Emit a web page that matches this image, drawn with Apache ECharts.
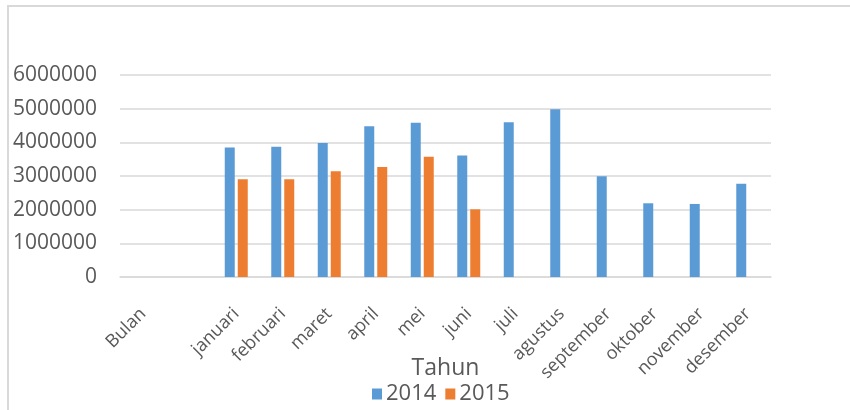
<!DOCTYPE html>
<html>
<head>
<meta charset="utf-8">
<script src="https://cdn.jsdelivr.net/npm/echarts@6/dist/echarts.min.js"></script>
<style>
html,body{margin:0;padding:0;background:#fff;}
#chart{width:850px;height:410px;}
</style>
</head>
<body>
<div id="chart"></div>
<script>
// kategori bulan (kolom pertama "Bulan" + satu kolom kosong, seperti di sheet aslinya)
var bulan = ['Bulan', '', 'januari', 'februari', 'maret', 'april', 'mei', 'juni',
	'juli', 'agustus', 'september', 'oktober', 'november', 'desember'];
var data2014 = [null, null, 3850000, 3870000, 3980000, 4480000, 4580000, 3610000,
	4600000, 4980000, 2990000, 2190000, 2170000, 2770000];
var data2015 = [null, null, 2900000, 2900000, 3140000, 3270000, 3570000, 2010000,
	null, null, null, null, null, null];
var yTicks = [0, 1000000, 2000000, 3000000, 4000000, 5000000, 6000000];

var txtColor = '#595959';
var gridColor = '#d9d9d9';

var myChart = echarts.init(document.getElementById('chart'));
var option = {
	animation: false,
	textStyle: { fontFamily: 'Open Sans' },
	graphic: [{
		type: 'rect',
		shape: { x: 8, y: 6, width: 900, height: 500 },
		style: { fill: 'none', stroke: gridColor, lineWidth: 2 },
		silent: true
	}],
	grid: { left: 120, right: 79, top: 75, bottom: 133 },
	legend: {
		data: ['2014', '2015'],
		left: 367,
		top: 378,
		itemWidth: 10,
		itemHeight: 11,
		itemGap: 9,
		icon: 'rect',
		textStyle: { color: txtColor, fontSize: 22, padding: [0, 0, 0, -1] }
	},
	xAxis: {
		type: 'category',
		data: bulan,
		name: 'Tahun',
		nameLocation: 'middle',
		nameGap: 80,
		nameMoveOverlap: false,
		nameTextStyle: { color: txtColor, fontSize: 23 },
		axisLine: { show: true, lineStyle: { color: gridColor, width: 1.5 } },
		axisTick: { show: false },
		axisLabel: {
			interval: 0,
			rotate: 45,
			margin: 34,
			color: txtColor,
			fontSize: 18
		}
	},
	yAxis: {
		type: 'value',
		min: yTicks[0],
		max: yTicks[yTicks.length - 1],
		interval: 1000000,
		axisLine: { show: false },
		axisTick: { show: false },
		axisLabel: {
			color: txtColor,
			fontSize: 21,
			margin: 23,
			formatter: function (v) { return String(v); }
		},
		splitLine: { lineStyle: { color: gridColor, width: 1.5 } }
	},
	series: [{
		name: '2014',
		type: 'bar',
		data: data2014,
		barWidth: 10,
		barGap: '30%',
		itemStyle: { color: '#5b9bd5' }
	}, {
		name: '2015',
		type: 'bar',
		data: data2015,
		barWidth: 10,
		itemStyle: { color: '#ed7d31' }
	}]
};
myChart.setOption(option);
</script>
</body>
</html>
